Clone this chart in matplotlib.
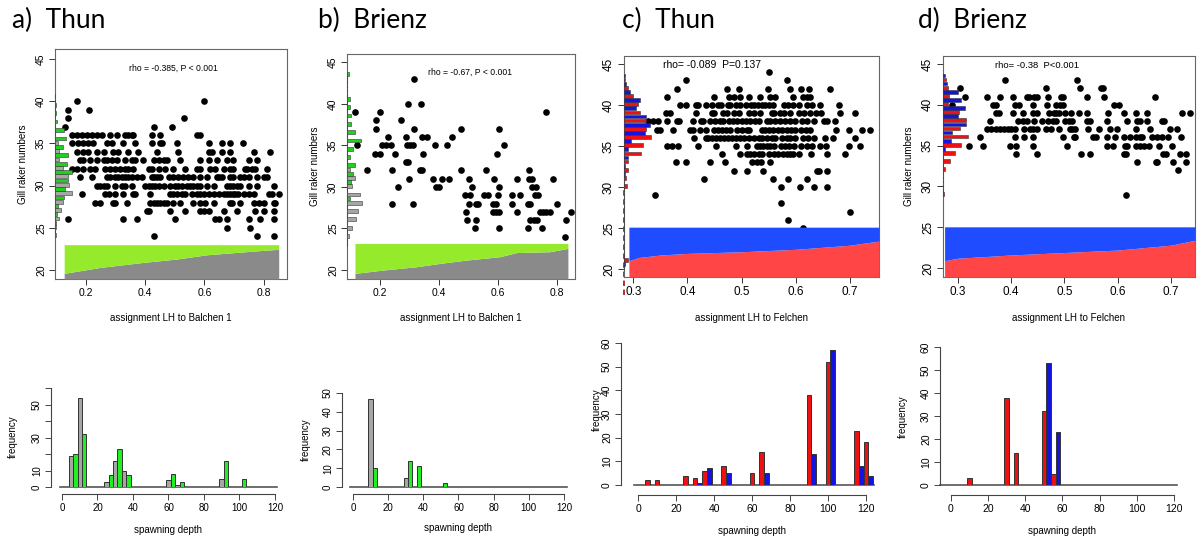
import matplotlib
matplotlib.use('Agg')
import matplotlib.pyplot as plt

plt.rcParams['font.family'] = ['Liberation Sans', 'DejaVu Sans']

W, H = 1198, 540
fig = plt.figure(figsize=(W / 100, H / 100), dpi=100)


def rect(l, t, r, b):
    return [l / W, 1 - b / H, (r - l) / W, (b - t) / H]


# ------------------------------------------------------------------ data
panel_titles = ['a)  Thun', 'b)  Brienz', 'c)  Thun', 'd)  Brienz']
rho_texts = ['rho = -0.385, P < 0.001', 'rho = -0.67, P < 0.001',
             'rho= -0.089  P=0.137', 'rho= -0.38  P<0.001']
xlabels = ['assignment LH to Balchen 1', 'assignment LH to Balchen 1',
           'assignment LH to Felchen', 'assignment LH to Felchen']

# scatter: gill raker number -> assignment values
a_points = {
    40: [0.17, 0.60],
    39: [0.14, 0.21],
    38: [0.14, 0.53],
    37: [0.13, 0.43, 0.49],
    36: [0.151, 0.168, 0.185, 0.202, 0.219, 0.236, 0.253, 0.281, 0.304, 0.332, 0.343, 0.354, 0.36, 0.422, 0.45, 0.574, 0.586],
    35: [0.151, 0.174, 0.191, 0.208, 0.225, 0.27, 0.287, 0.326, 0.366, 0.422, 0.45, 0.456, 0.507, 0.614, 0.659, 0.687, 0.729],
    34: [0.168, 0.191, 0.208, 0.236, 0.259, 0.292, 0.309, 0.343, 0.377, 0.439, 0.512, 0.614, 0.625, 0.659, 0.687, 0.766, 0.822],
    33: [0.18, 0.191, 0.214, 0.236, 0.259, 0.27, 0.287, 0.304, 0.332, 0.354, 0.366, 0.394, 0.428, 0.445, 0.462, 0.473, 0.518, 0.586, 0.614, 0.642, 0.676, 0.698, 0.749, 0.777],
    32: [0.151, 0.168, 0.191, 0.214, 0.23, 0.264, 0.281, 0.298, 0.315, 0.332, 0.343, 0.36, 0.411, 0.422, 0.445, 0.467, 0.495, 0.535, 0.574, 0.586, 0.619, 0.636, 0.665, 0.687, 0.698, 0.738, 0.744, 0.76, 0.772, 0.811],
    31: [0.18, 0.219, 0.27, 0.281, 0.298, 0.309, 0.321, 0.332, 0.343, 0.354, 0.371, 0.388, 0.422, 0.428, 0.439, 0.45, 0.479, 0.495, 0.512, 0.529, 0.546, 0.563, 0.586, 0.608, 0.642, 0.648, 0.659, 0.687, 0.698, 0.721, 0.732, 0.749, 0.777, 0.8, 0.811],
    30: [0.236, 0.247, 0.259, 0.27, 0.298, 0.321, 0.332, 0.354, 0.4, 0.411, 0.422, 0.433, 0.445, 0.462, 0.484, 0.501, 0.512, 0.524, 0.541, 0.552, 0.563, 0.574, 0.586, 0.608, 0.631, 0.676, 0.687, 0.698, 0.71, 0.721, 0.749, 0.777, 0.834],
    29: [0.185, 0.264, 0.276, 0.298, 0.326, 0.36, 0.366, 0.417, 0.484, 0.495, 0.507, 0.524, 0.535, 0.557, 0.574, 0.586, 0.597, 0.614, 0.631, 0.648, 0.665, 0.676, 0.687, 0.698, 0.704, 0.715, 0.732, 0.749, 0.766, 0.817, 0.828, 0.851],
    28: [0.23, 0.247, 0.292, 0.298, 0.338, 0.417, 0.428, 0.439, 0.45, 0.462, 0.473, 0.495, 0.518, 0.563, 0.586, 0.603, 0.631, 0.687, 0.693, 0.721, 0.766, 0.783, 0.8, 0.834, 0.839],
    27: [0.405, 0.411, 0.484, 0.535, 0.586, 0.597, 0.614, 0.665, 0.71, 0.772, 0.8, 0.834],
    26: [0.14, 0.326, 0.371, 0.501, 0.636, 0.648, 0.676, 0.749, 0.789, 0.834],
    25: [0.676, 0.755],
    24: [0.428, 0.777, 0.834],
}
b_points = {
    43: [0.315],
    40: [0.296, 0.337],
    39: [0.115, 0.2, 0.761],
    38: [0.187, 0.27],
    37: [0.187, 0.315, 0.475, 0.603],
    36: [0.228, 0.288, 0.342, 0.358, 0.445],
    35: [0.123, 0.206, 0.22, 0.236, 0.29, 0.301, 0.313, 0.386, 0.425, 0.619],
    34: [0.183, 0.2, 0.252, 0.346, 0.597],
    33: [0.288, 0.296],
    32: [0.155, 0.24, 0.335, 0.342, 0.473, 0.558, 0.704],
    31: [0.298, 0.378, 0.408, 0.433, 0.502, 0.585, 0.662, 0.704, 0.716, 0.785],
    30: [0.262, 0.389, 0.4, 0.512, 0.601, 0.714, 0.729],
    29: [0.489, 0.505, 0.552, 0.567, 0.6, 0.646, 0.675, 0.724, 0.736],
    28: [0.24, 0.313, 0.502, 0.526, 0.531, 0.583, 0.594, 0.646, 0.702, 0.706, 0.799],
    27: [0.49, 0.583, 0.594, 0.603, 0.662, 0.74, 0.751, 0.763, 0.774, 0.848],
    26: [0.496, 0.526, 0.709, 0.72, 0.731, 0.83],
    25: [0.521, 0.602, 0.702, 0.747],
    24: [0.825],
}
c_points = {
    44: [0.55],
    43: [0.398, 0.583],
    42: [0.381, 0.472, 0.495, 0.549, 0.589, 0.609, 0.624, 0.663],
    41: [0.363, 0.449, 0.477, 0.486, 0.496, 0.514, 0.533, 0.552, 0.562, 0.594, 0.612, 0.621, 0.626],
    40: [0.386, 0.398, 0.416, 0.419, 0.434, 0.445, 0.456, 0.462, 0.474, 0.478, 0.489, 0.497, 0.508, 0.517, 0.523, 0.53, 0.537, 0.543, 0.55, 0.557, 0.577, 0.586, 0.594, 0.606, 0.62, 0.63, 0.645, 0.68],
    39: [0.36, 0.368, 0.416, 0.445, 0.448, 0.466, 0.472, 0.485, 0.495, 0.514, 0.523, 0.534, 0.555, 0.56, 0.57, 0.577, 0.589, 0.605, 0.614, 0.626, 0.637, 0.646, 0.682, 0.709],
    38: [0.328, 0.337, 0.346, 0.362, 0.381, 0.385, 0.411, 0.424, 0.429, 0.442, 0.451, 0.46, 0.466, 0.477, 0.483, 0.491, 0.5, 0.508, 0.515, 0.525, 0.531, 0.547, 0.552, 0.562, 0.571, 0.58, 0.589, 0.598, 0.611, 0.62, 0.634, 0.651, 0.658, 0.672],
    37: [0.343, 0.349, 0.374, 0.405, 0.411, 0.423, 0.434, 0.448, 0.457, 0.463, 0.471, 0.478, 0.491, 0.5, 0.509, 0.514, 0.537, 0.543, 0.551, 0.558, 0.566, 0.574, 0.583, 0.59, 0.598, 0.609, 0.619, 0.626, 0.674, 0.697, 0.722, 0.737],
    36: [0.412, 0.434, 0.438, 0.445, 0.453, 0.46, 0.467, 0.475, 0.482, 0.49, 0.496, 0.504, 0.514, 0.523, 0.531, 0.537, 0.546, 0.555, 0.562, 0.574, 0.583, 0.589, 0.598, 0.613, 0.623, 0.634, 0.654, 0.668, 0.709],
    35: [0.362, 0.371, 0.383, 0.42, 0.452, 0.49, 0.509, 0.528, 0.534, 0.54, 0.546, 0.552, 0.56, 0.572, 0.58, 0.588, 0.597, 0.609, 0.62, 0.629, 0.645, 0.656, 0.697, 0.718],
    34: [0.463, 0.496, 0.509, 0.515, 0.523, 0.531, 0.537, 0.551, 0.56, 0.566, 0.576, 0.583, 0.589, 0.595, 0.605, 0.627, 0.657, 0.691],
    33: [0.378, 0.397, 0.442, 0.469, 0.518, 0.528, 0.535, 0.552],
    32: [0.485, 0.509, 0.539, 0.638, 0.642, 0.658],
    31: [0.43, 0.558, 0.586, 0.62],
    30: [0.572, 0.608, 0.634, 0.658],
    29: [0.34],
    28: [0.572],
    27: [0.7],
    26: [0.585],
    25: [0.612],
}
d_points = {
    43: [0.388, 0.524],
    42: [0.304, 0.466, 0.529, 0.568, 0.573],
    41: [0.314, 0.355, 0.379, 0.404, 0.429, 0.434, 0.443, 0.448, 0.47, 0.493, 0.498, 0.543, 0.574, 0.67],
    40: [0.289, 0.365, 0.371, 0.407, 0.415, 0.44, 0.468, 0.484, 0.492, 0.497, 0.593, 0.603],
    39: [0.371, 0.377, 0.404, 0.423, 0.441, 0.448, 0.471, 0.48, 0.485, 0.49, 0.501, 0.512, 0.528, 0.542, 0.581, 0.611, 0.635, 0.655, 0.721, 0.736],
    38: [0.36, 0.413, 0.423, 0.43, 0.443, 0.457, 0.47, 0.478, 0.485, 0.501, 0.509, 0.515, 0.542, 0.547, 0.58, 0.618, 0.636, 0.642, 0.654, 0.683, 0.686],
    37: [0.355, 0.363, 0.371, 0.379, 0.386, 0.394, 0.399, 0.407, 0.424, 0.435, 0.44, 0.448, 0.466, 0.474, 0.49, 0.51, 0.515, 0.52, 0.545, 0.564, 0.586, 0.598, 0.635, 0.661, 0.699, 0.711],
    36: [0.342, 0.407, 0.424, 0.44, 0.497, 0.518, 0.52, 0.553, 0.559, 0.58, 0.595, 0.612, 0.623, 0.635, 0.642, 0.645, 0.664, 0.674, 0.683, 0.694, 0.718],
    35: [0.321, 0.347, 0.397, 0.409, 0.44, 0.505, 0.58, 0.591, 0.614, 0.618, 0.635, 0.641, 0.649, 0.658, 0.677, 0.702],
    34: [0.409, 0.449, 0.531, 0.547, 0.612, 0.616, 0.685, 0.691, 0.716, 0.729],
    33: [0.637, 0.672, 0.674, 0.704, 0.728],
    32: [0.713],
    29: [0.616],
}

# side histograms of gill raker numbers (bar lengths, counts)
a_side_y = list(range(24, 41))
a_side_gray = [1, 1, 4, 5.7, 8.3, 16.7, 14.3, 13.3, 7.7, 4.3, 4.3, 3, 0, 0, 0, 0, 0]
a_side_green = [0, 1, 2.3, 3.3, 9.3, 10, 13.3, 16.7, 11.7, 13.3, 8.3, 11, 9.3, 2.3, 0.5, 1, 0]
b_side_y = list(range(23, 44))
b_side_gray = [0.5, 1.7, 5.3, 9.3, 11, 15, 13.3, 5.3, 8.3, 2.7, 0, 0, 0, 0, 0, 0, 0, 0, 0, 0, 0]
b_side_green = [0, 0, 0, 0, 0, 2.7, 0, 4.3, 6, 8.3, 2.7, 6, 14.3, 8.3, 4.3, 4.3, 2.7, 3.3, 0, 0, 2]
c_side_y = list(range(20, 44))
c_side_red = [0, 4, 0, 0, 0, 0, 0, 0, 0, 0, 3.3, 2.3, 4, 4, 17.3, 19, 26.7, 21.7, 21.7, 16.3, 14, 9, 4, 1]
c_side_blue = [1, 0, 0, 0, 0, 0, 0, 0, 0, 0, 0, 0.5, 1, 4, 4, 6.7, 20.7, 26.3, 22.3, 11.7, 15.7, 5.7, 2.3, 1]
d_side_y = list(range(29, 44))
d_side_red = [1, 0, 0, 1.7, 7, 11.7, 17.7, 25, 16.7, 23.3, 15.7, 5, 5.7, 5, 3.3]
d_side_blue = [0, 0, 0, 0, 0, 2.3, 7.7, 9, 23.3, 15, 21.7, 17.7, 15, 4.3, 1.7]

# sorted assignment proportions (lower band boundary)
a_prop_x = [0.126, 0.247, 0.394, 0.507, 0.608, 0.698, 0.789, 0.851]
a_prop_y = [19.6, 20.3, 20.9, 21.3, 21.8, 22.05, 22.3, 22.45]
b_prop_x = [0.115, 0.211, 0.324, 0.403, 0.493, 0.605, 0.662, 0.774, 0.836]
b_prop_y = [19.6, 20.0, 20.4, 20.8, 21.2, 21.6, 22.1, 22.2, 22.6]
c_prop_x = [0.292, 0.31, 0.35, 0.4, 0.5, 0.6, 0.7, 0.72, 0.753]
c_prop_y = [21.0, 21.4, 21.7, 21.9, 22.1, 22.4, 22.9, 23.1, 23.4]
d_prop_x = [0.275, 0.3, 0.4, 0.5, 0.6, 0.7, 0.745]
d_prop_y = [20.9, 21.2, 21.6, 21.9, 22.2, 22.8, 23.4]
band_tops = [23.0, 23.2, 25.1, 25.05]

# spawning depth histograms
a_depth = [5, 10, 25, 30, 35, 60, 65, 90, 100]
a_gray = [19, 54, 3, 16, 10, 4, 1, 5, 0]
a_green = [20, 32, 7, 23, 7, 8, 3, 16, 5]
b_depth = [10, 30, 35, 50]
b_gray = [47, 5, 0, 0]
b_green = [10, 14, 11, 2]
c_depth = [5, 10, 25, 30, 35, 45, 60, 65, 90, 100, 115, 120]
c_red = [2, 2, 4, 3, 6, 8, 5, 14, 38, 52, 23, 18]
c_blue = [0, 0, 0, 1, 7, 5, 0, 5, 13, 57, 8, 4]
d_depth = [10, 30, 35, 50, 55]
d_red = [3, 38, 14, 32, 5]
d_blue = [0, 0, 0, 53, 23]

# ------------------------------------------------------------------ styling
GRAY_BAR = '#a6a6a6'
GREEN_SIDE = '#1fd01f'
GREEN_BAND = '#95ea2c'
GRAY_BAND = '#8a8a8a'
GREEN_HIST = '#22ee22'
RED_BAR = '#ee1111'
BLUE_BAR = '#1414e0'
RED_BAND = '#ff4545'
BLUE_BAND = '#1f4cff'
FRAME = '#666666'

scatter_panels = [
    dict(rect=(55, 49, 287, 279), xlim=(0.095, 0.879), ylim=(18.93, 46.2),
         xt=[0.2, 0.4, 0.6, 0.8], pts=a_points,
         side_y=a_side_y, side1=a_side_gray, side2=a_side_green, c1=GRAY_BAR, c2=GREEN_SIDE,
         scale=0.00339, px=a_prop_x, py=a_prop_y, lowc=GRAY_BAND, hic=GREEN_BAND,
         fs=7.5, rho=(173, 68), rhofs=6.2, ylab=True),
    dict(rect=(347, 54, 575, 279), xlim=(0.088, 0.86), ylim=(18.92, 46.0),
         xt=[0.2, 0.4, 0.6, 0.8], pts=b_points,
         side_y=b_side_y, side1=b_side_gray, side2=b_side_green, c1=GRAY_BAR, c2=GREEN_SIDE,
         scale=0.00338, px=b_prop_x, py=b_prop_y, lowc=GRAY_BAND, hic=GREEN_BAND,
         fs=7.5, rho=(470, 72), rhofs=6.2, ylab=True),
    dict(rect=(624, 56, 879, 277), xlim=(0.283, 0.753), ylim=(19.02, 45.98),
         xt=[0.3, 0.4, 0.5, 0.6, 0.7], pts=c_points,
         side_y=c_side_y, side1=c_side_red, side2=c_side_blue, c1=RED_BAR, c2=BLUE_BAR,
         scale=0.001845, px=c_prop_x, py=c_prop_y, lowc=RED_BAND, hic=BLUE_BAND,
         fs=8.5, rho=(712, 65), rhofs=7.5, ylab=False),
    dict(rect=(943, 56, 1195, 277), xlim=(0.272, 0.745), ylim=(18.9, 45.98),
         xt=[0.3, 0.4, 0.5, 0.6, 0.7], pts=d_points,
         side_y=d_side_y, side1=d_side_red, side2=d_side_blue, c1=RED_BAR, c2=BLUE_BAR,
         scale=0.001883, px=d_prop_x, py=d_prop_y, lowc=RED_BAND, hic=BLUE_BAND,
         fs=8.5, rho=(1037, 65), rhofs=6.8, ylab=True),
]

for i, p in enumerate(scatter_panels):
    ax = fig.add_axes(rect(*p['rect']))
    x0 = p['xlim'][0]
    ax.set_xlim(*p['xlim'])
    ax.set_ylim(*p['ylim'])
    xs, ys = [], []
    for yv, xl in p['pts'].items():
        xs += xl
        ys += [yv] * len(xl)
    ax.scatter(xs, ys, s=23, color='black', zorder=2, linewidths=0)
    # side histograms
    yk = p['side_y']
    ax.barh([k + 0.1 for k in yk], [v * p['scale'] for v in p['side1']], left=x0,
            height=0.45, color=p['c1'], edgecolor='#333333', linewidth=0.4, zorder=3)
    ax.barh([k + 0.6 for k in yk], [v * p['scale'] for v in p['side2']], left=x0,
            height=0.45, color=p['c2'], edgecolor='#333333', linewidth=0.4, zorder=3)
    # assignment band
    ax.fill_between(p['px'], p['ylim'][0], p['py'], color=p['lowc'], lw=0, zorder=4)
    ax.fill_between(p['px'], p['py'], band_tops[i], color=p['hic'], lw=0, zorder=4)
    # left base line of side histogram
    if i == 0:
        ax.plot([x0, x0], [19.5, 42.3], color='black', lw=1.3, ls=(0, (3, 2)), zorder=2.5)
    elif i == 1:
        ax.plot([x0, x0], [19.0, 45.5], color='black', lw=1.3, zorder=2.5)
    elif i == 2:
        ax.plot([x0, x0], [30.0, 44.2], color='black', lw=1.3, zorder=2.5)
        ax.plot([x0, x0], [16.8, 30.0], color='#b02020', lw=1.3, ls=(0, (3, 2)),
                zorder=2.5, clip_on=False)
    else:
        ax.plot([x0, x0], [19.0, 44.2], color='black', lw=1.3, zorder=2.5)
    ax.set_xticks(p['xt'])
    ax.set_xticklabels([f'{t:.1f}' for t in p['xt']])
    ax.set_yticks([20, 25, 30, 35, 40, 45])
    ax.tick_params(direction='out', length=4, width=0.7, color='#333333',
                   labelsize=p['fs'], pad=2.5)
    for lbl in ax.get_yticklabels():
        lbl.set_rotation(90)
        lbl.set_va('center')
    for sp in ax.spines.values():
        sp.set_color(FRAME)
        sp.set_linewidth(0.8)
    ax.set_xlabel(xlabels[i], fontsize=7, labelpad=11)
    if p['ylab']:
        ax.set_ylabel('Gill raker numbers', fontsize=7, labelpad=6)
    fig.text(p['rho'][0] / W, 1 - p['rho'][1] / H, rho_texts[i], fontsize=p['rhofs'],
             ha='center', va='center')

# ------------------------------------------------------------------ depth histograms
hist_panels = [
    dict(rect=(51, 388.3, 282, 487), xlim=(-6.2, 124), ymax=60, depth=a_depth,
         v1=a_gray, v2=a_green, c1=GRAY_BAR, c2=GREEN_HIST, base=(-1.3, 121),
         ylabels=['0', '10', '', '30', '', '50', ''], off=5, fs=7, ylx=13, yly=437, xly=530),
    dict(rect=(342, 393, 571, 487), xlim=(-6.26, 124), ymax=50, depth=b_depth,
         v1=b_gray, v2=b_green, c1=GRAY_BAR, c2=GREEN_HIST, base=(-1.7, 121.5),
         ylabels=['0', '10', '20', '30', '40', '50'], off=5, fs=7, ylx=306, yly=440, xly=528),
    dict(rect=(621, 343, 877.4, 485), xlim=(-8.95, 126), ymax=60, depth=c_depth,
         v1=c_red, v2=c_blue, c1=RED_BAR, c2=BLUE_BAR, base=(-2.3, 124),
         ylabels=['0', '10', '20', '30', '40', '50', '60'], off=7, fs=7.5, ylx=597, yly=410, xly=531),
    dict(rect=(940, 347, 1181.4, 485), xlim=(-5.92, 124), ymax=60, depth=d_depth,
         v1=d_red, v2=d_blue, c1=RED_BAR, c2=BLUE_BAR, base=(-6, 121.4),
         ylabels=['0', '10', '20', '30', '40', '50', '60'], off=7, fs=7.5, ylx=903, yly=417, xly=531),
]

for p in hist_panels:
    ax = fig.add_axes(rect(*p['rect']))
    ax.set_xlim(*p['xlim'])
    ax.set_ylim(0, p['ymax'])
    d = p['depth']
    ax.bar(d, p['v1'], width=2.5, align='center', color=p['c1'],
           edgecolor='#333333', linewidth=0.7, zorder=3)
    ax.bar([v + 2.5 for v in d], p['v2'], width=2.5, align='center', color=p['c2'],
           edgecolor='#333333', linewidth=0.7, zorder=3)
    ax.plot(list(p['base']), [0, 0], color='#555555', lw=1.2, zorder=2, clip_on=False)
    for s in ('top', 'right'):
        ax.spines[s].set_visible(False)
    ax.spines['left'].set_bounds(0, p['ymax'])
    ax.spines['bottom'].set_bounds(0, 120)
    ax.spines['bottom'].set_position(('outward', p['off']))
    for s in ('left', 'bottom'):
        ax.spines[s].set_color('#444444')
        ax.spines[s].set_linewidth(0.8)
    ax.set_xticks(list(range(0, 121, 20)))
    ax.set_yticks(list(range(0, p['ymax'] + 1, 10)))
    ax.set_yticklabels(p['ylabels'])
    ax.tick_params(direction='out', length=4, width=0.7, color='#444444',
                   labelsize=p['fs'], pad=2.5)
    for lbl in ax.get_yticklabels():
        lbl.set_rotation(90)
        lbl.set_va('center')
    ax.patch.set_alpha(0)
    fig.text(p['ylx'] / W, 1 - p['yly'] / H, 'frequency', rotation=90, fontsize=7,
             ha='center', va='center')
    cx = (p['rect'][0] + (0 - p['xlim'][0]) / (p['xlim'][1] - p['xlim'][0]) * (p['rect'][2] - p['rect'][0])
          + (120 - p['xlim'][0]) / (p['xlim'][1] - p['xlim'][0]) * (p['rect'][2] - p['rect'][0])) / 2
    fig.text((cx + p['rect'][0] / 2) / W, 1 - p['xly'] / H, 'spawning depth', fontsize=7,
             ha='center', va='center')

# ------------------------------------------------------------------ panel titles
title_x = [12, 318, 622, 918]
for tx, t in zip(title_x, panel_titles):
    fig.text(tx / W, 1 - 20 / H, t, fontsize=19, family=['Lato', 'DejaVu Sans'],
             ha='left', va='center')

fig.savefig('out.png', dpi=100)
